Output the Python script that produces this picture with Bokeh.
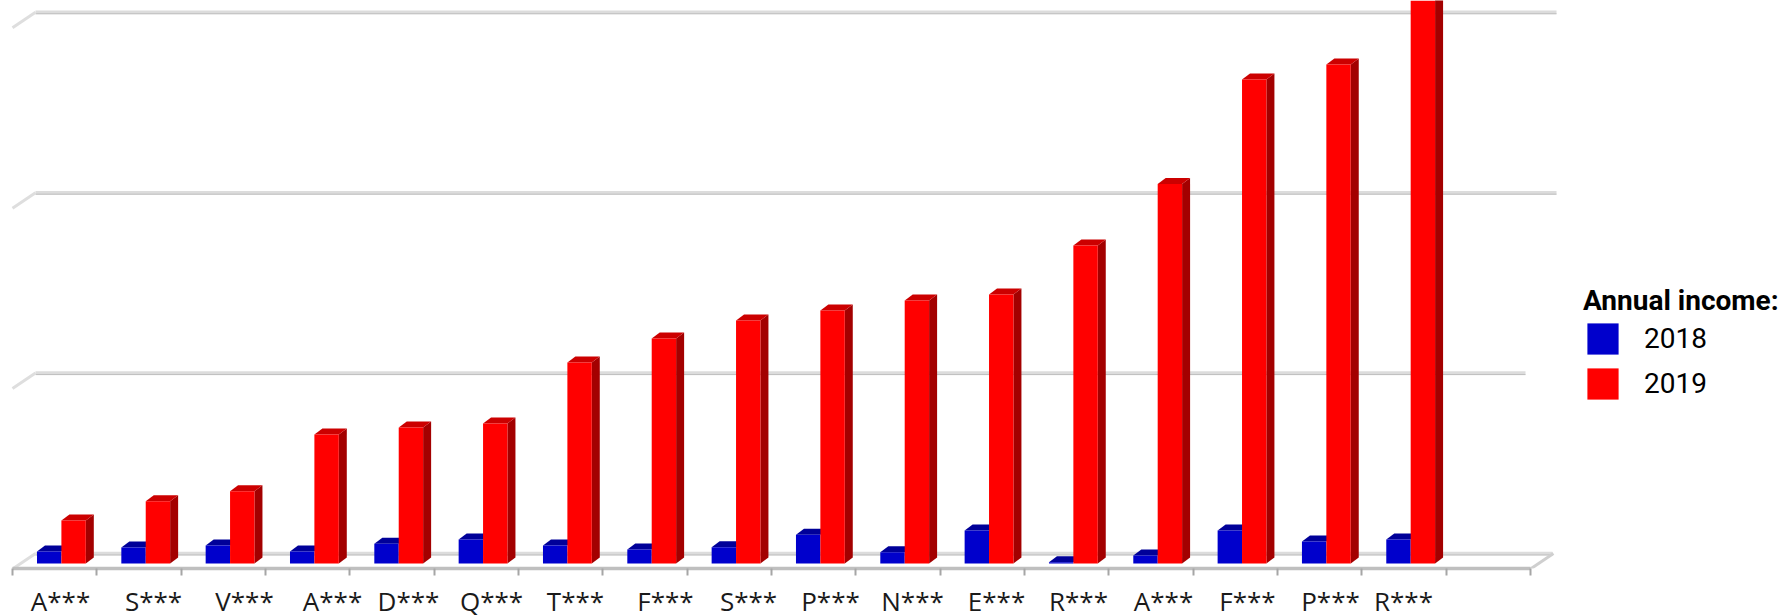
from bokeh.plotting import figure
from bokeh.models import Range1d, FixedTicker, Legend, LegendItem
from bokeh.core.properties import value
from bokeh.embed import file_html
from bokeh.resources import INLINE

categories = ["A***", "S***", "V***", "A***", "D***", "Q***", "T***", "F***", "S***",
              "P***", "N***", "E***", "R***", "A***", "F***", "P***", "R***"]
income_2018 = [66, 88, 100, 66, 110, 133, 100, 78, 90, 159, 63, 183, 7, 44, 183, 122, 133]
income_2019 = [238, 345, 401, 715, 754, 776, 1114, 1247, 1347, 1402, 1458, 1491, 1763, 2104, 2683, 2766, 3150]
grid_values = [0, 1000, 2000, 3000]
series_names = ["2018", "2019"]

# layout (pixels in the page)
PX_SLOT = 84.33
PX_ZERO = 12.0
PX_PER_UNIT = 0.1804
LABEL_PX = [60, 153, 244, 332, 408, 491, 575, 665, 748, 830, 912, 996, 1078, 1163, 1247, 1330, 1403]
GRID_END_PX = [1552, 1525, 1556, 1556]
W, H = 1787, 616
FRAME_BOTTOM = 568

def X(px):
    return (px - PX_ZERO) / PX_SLOT

def DY(px):
    return px / PX_PER_UNIT

bar_w = 24.4 / PX_SLOT
bar_start = (36.5 - PX_ZERO) / PX_SLOT
dx, dy = 8 / PX_SLOT, DY(6)

p = figure(width=W, height=H, output_backend="svg", toolbar_location=None,
           x_range=Range1d(X(0), X(W)),
           y_range=Range1d(DY(563 - FRAME_BOTTOM), DY(563)),
           y_axis_location=None, min_border_left=0, min_border_right=0,
           min_border_top=0, min_border_bottom=H - FRAME_BOTTOM,
           outline_line_color=None, background_fill_color="white")
p.xgrid.visible = False
p.ygrid.visible = False

# back wall grid lines, floor and side slants
back_off = DY(10)
front_drop = DY(15.5)
depth_x = X(35) - X(12)
for v, end_px in zip(grid_values, GRID_END_PX):
    y = v + back_off
    p.line([X(35), X(end_px)], [y, y], line_color="#dcdcdc", line_width=3.5)
    p.line([X(35), X(end_px)], [y - DY(1.5), y - DY(1.5)], line_color="#bdbdbd", line_width=1)
    p.line([0, depth_x], [y - front_drop, y], line_color="#dedede", line_width=3)
p.line([18, 18 + depth_x], [back_off - front_drop, back_off], line_color="#cfcfcf", line_width=3)

# bars
xs_blue = [bar_start + i for i in range(len(categories))]
xs_red = [x + bar_w for x in xs_blue]

def caps(xs, vals):
    return ([[x, x + bar_w, x + bar_w + dx, x + dx] for x in xs],
            [[v, v, v + dy, v + dy] for v in vals])

def sides(xs, vals):
    return ([[x + bar_w, x + bar_w + dx, x + bar_w + dx, x + bar_w] for x in xs],
            [[0, dy, v + dy, v] for v in vals])

cx, cy = caps(xs_blue, income_2018)
p.patches(cx, cy, fill_color="#000099", line_color=None)
blue = p.vbar(x=[x + bar_w / 2 for x in xs_blue], width=bar_w, top=income_2018, bottom=0,
              fill_color="#0000cc", line_color=None)
sx, sy = sides(xs_red, income_2019)
p.patches(sx, sy, fill_color="#a30000", line_color=None)
cx, cy = caps(xs_red, income_2019)
p.patches(cx, cy, fill_color="#cc0000", line_color=None)
red = p.vbar(x=[x + bar_w / 2 for x in xs_red], width=bar_w, top=income_2019, bottom=0,
             fill_color="#ff0000", line_color=None)

# axis: slot boundaries are the ticks; the labels below sit where the reference puts them
ax = p.xaxis[0]
ax.ticker = FixedTicker(ticks=list(range(19)))
ax.major_label_overrides = {i: "" for i in range(19)}
ax.major_label_standoff = 0
ax.bounds = (0, 18)
ax.axis_line_color = "#bfbfbf"
ax.axis_line_width = 3.5
ax.major_tick_line_color = "#a6a6a6"
ax.major_tick_line_width = 2
ax.major_tick_out = 7
ax.major_tick_in = 0
ax.minor_tick_line_color = None

p.text(x=[X(px) for px in LABEL_PX], y=[DY(563 - 600)] * len(categories), text=categories,
       text_font=value("Open Sans"), text_font_size=value("26px"), text_color="#1a1a1a",
       text_align="center", text_baseline="middle", level="annotation")

legend = Legend(items=[LegendItem(label=series_names[0], renderers=[blue]),
                       LegendItem(label=series_names[1], renderers=[red])],
                title="Annual income:", location=(1583, 165), orientation="vertical",
                border_line_color=None, background_fill_alpha=0,
                padding=0, margin=0, spacing=6, glyph_width=39, glyph_height=39,
                label_standoff=22, label_height=39,
                title_text_font="Roboto", title_text_font_size="28px",
                title_text_font_style="bold", title_text_color="#000000", title_standoff=2,
                label_text_font="Roboto", label_text_font_size="28px",
                label_text_font_style="normal", label_text_color="#000000")
p.add_layout(legend)

open("out.html", "w").write(file_html(p, INLINE))
